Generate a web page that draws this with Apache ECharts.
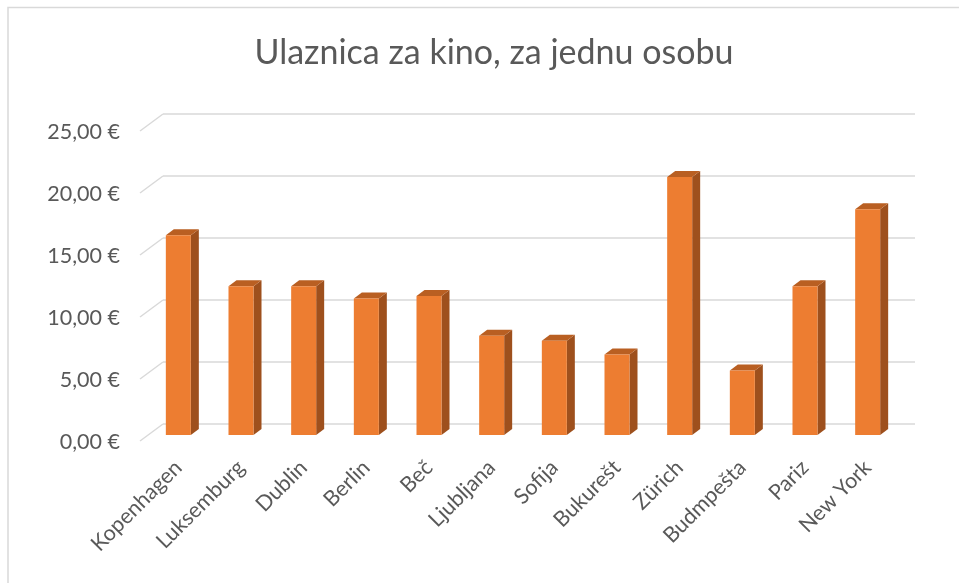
<!DOCTYPE html>
<html>
<head>
<meta charset="utf-8">
<script src="https://cdn.jsdelivr.net/npm/echarts@6/dist/echarts.min.js"></script>
<style>
  html, body { margin: 0; padding: 0; background: #fff; }
  #chart-container { width: 959px; height: 583px; }
</style>
</head>
<body>
<div id="chart-container"></div>
<script>
var gradovi = ['Kopenhagen', 'Luksemburg', 'Dublin', 'Berlin', 'Beč', 'Ljubljana',
  'Sofija', 'Bukurešt', 'Zürich', 'Budmpešta', 'Pariz', 'New York'];
var cijene = [16.1, 12.0, 12.0, 11.0, 11.2, 8.0, 7.6, 6.5, 20.8, 5.2, 12.0, 18.2];
var oznakeY = [0, 5, 10, 15, 20, 25];

var dom = document.getElementById('chart-container');
var myChart = echarts.init(dom, null, { renderer: 'canvas' });

var font = 'Lato';
var sivo = '#595959';

// dubina 3D stupca
var DX = 8, DY = 6;

var option = {
  animation: false,
  title: {
    text: 'Ulaznica za kino, za jednu osobu',
    left: 489,
    top: 31,
    textAlign: 'center',
    textStyle: { color: sivo, fontSize: 34, fontWeight: 'normal', fontFamily: font }
  },
  graphic: [{
    type: 'polyline',
    shape: { points: [[8, 583], [8, 7.5], [959, 7.5]] },
    style: { stroke: '#d9d9d9', lineWidth: 1.5, fill: null }
  }],
  grid: [
    // zadnji zid (linije mreže)
    { left: 163, right: 44, top: 114, bottom: 159 },
    // prednja ravnina stupaca
    { left: 147, right: 60, top: 125, bottom: 148 },
    // prednji rub za oznake osi Y
    { left: 140, right: 67, top: 132, bottom: 141 }
  ],
  xAxis: [
    { type: 'category', gridIndex: 0, data: gradovi, show: false },
    {
      type: 'category', gridIndex: 1, data: gradovi,
      axisLine: { show: false }, axisTick: { show: false },
      axisLabel: {
        interval: 0, rotate: 45, margin: 29,
        color: sivo, fontSize: 21.5, fontFamily: font
      }
    },
    { type: 'category', gridIndex: 2, data: gradovi, show: false }
  ],
  yAxis: [
    {
      type: 'value', gridIndex: 0, min: 0, max: 25, interval: 5,
      axisLine: { show: false }, axisTick: { show: false }, axisLabel: { show: false },
      splitLine: { lineStyle: { color: '#d9d9d9', width: 1.5 } }
    },
    { type: 'value', gridIndex: 1, min: 0, max: 25, interval: 5, show: false },
    {
      type: 'value', gridIndex: 2, min: 0, max: 25, interval: 5,
      axisLine: { show: false }, axisTick: { show: false }, splitLine: { show: false },
      axisLabel: {
        margin: 20, color: sivo, fontSize: 21.5, fontFamily: font,
        formatter: function (v) { return v.toFixed(2).replace('.', ',') + ' €'; }
      }
    }
  ],
  series: [
    {
      // kose linije na lijevom rubu
      type: 'custom',
      xAxisIndex: 0, yAxisIndex: 0,
      data: oznakeY.map(function (v) { return [0, v]; }),
      renderItem: function (params, api) {
        var y = api.coord([0, api.value(1)])[1];
        var x0 = params.coordSys.x;
        return {
          type: 'line',
          shape: { x1: x0 - 23, y1: y + 17, x2: x0, y2: y },
          style: { stroke: '#d9d9d9', lineWidth: 1.5 }
        };
      },
      silent: true, z: 1
    },
    {
      type: 'bar',
      xAxisIndex: 1, yAxisIndex: 1,
      data: cijene,
      barWidth: 25,
      itemStyle: { color: '#ED7D31' },
      z: 3
    },
    {
      // bočna i gornja ploha stupca
      type: 'custom',
      xAxisIndex: 1, yAxisIndex: 1,
      data: cijene.map(function (v, i) { return [i, v]; }),
      renderItem: function (params, api) {
        var top = api.coord([api.value(0), api.value(1)]);
        var bot = api.coord([api.value(0), 0]);
        var xl = top[0] - 12.5, xr = top[0] + 12.5;
        var yt = top[1], yb = bot[1];
        return {
          type: 'group',
          children: [
            {
              type: 'polygon',
              shape: { points: [[xr, yt], [xr + DX, yt - DY], [xr + DX, yb - DY], [xr, yb]] },
              style: { fill: '#9E501D' }
            },
            {
              type: 'polygon',
              shape: { points: [[xl, yt], [xl + DX, yt - DY], [xr + DX, yt - DY], [xr, yt]] },
              style: { fill: '#B95F22' }
            }
          ]
        };
      },
      silent: true, z: 2
    }
  ]
};

myChart.setOption(option);
window.addEventListener('resize', myChart.resize);
</script>
</body>
</html>
